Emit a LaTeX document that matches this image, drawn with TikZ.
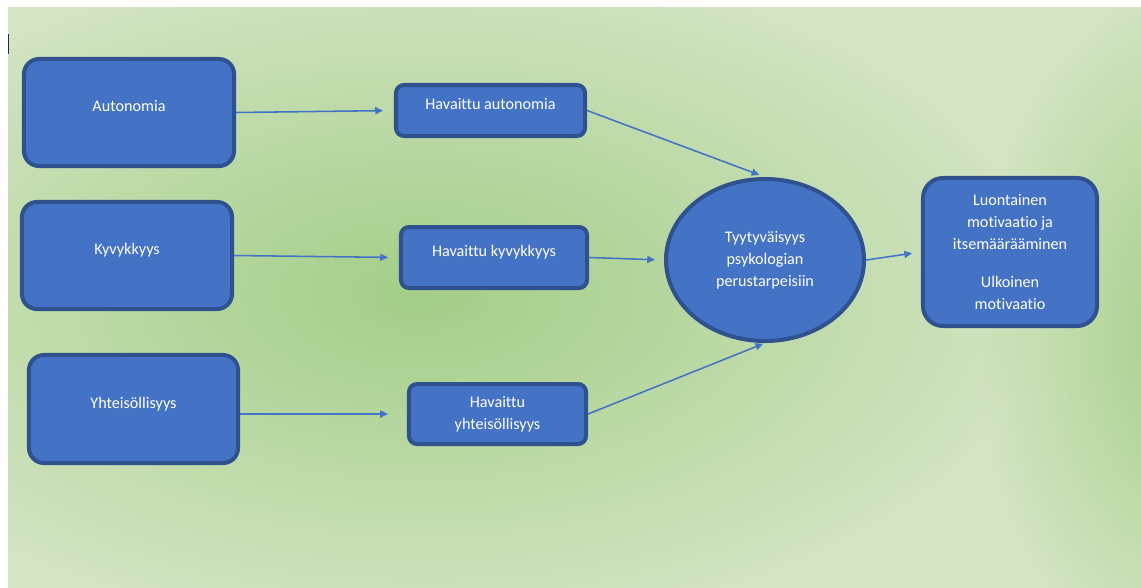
\documentclass[tikz,border=0pt]{standalone}
\usepackage{fontspec}
\setmainfont{Carlito}[Ligatures=NoCommon]
\usepackage{tikz}
\usetikzlibrary{arrows.meta,positioning,shapes.geometric,fadings}
\definecolor{sdtfill}{RGB}{68,114,196}
\definecolor{sdtline}{RGB}{47,82,143}
\definecolor{bglight}{RGB}{210,228,194}
\definecolor{bgdark}{RGB}{164,206,136}
\definecolor{cursorc}{RGB}{60,30,80}
\tikzfading[name=softblob, inner color=transparent!0, outer color=transparent!100]
\tikzset{
  factorbox/.style={
    rectangle, rounded corners=0.375cm, draw=sdtline, fill=sdtfill,
    line width=0.1cm, text=white, text height=8pt, text depth=9pt,
    minimum width=5.25cm, minimum height=2.675cm,
    font=\fontsize{11.5}{15.6}\selectfont
  },
  perceivedbox/.style={
    rectangle, rounded corners=0.2cm, draw=sdtline, fill=sdtfill,
    line width=0.1cm, text=white, text height=8pt, text depth=9pt,
    font=\fontsize{11.5}{15.6}\selectfont
  },
  needoval/.style={
    ellipse, draw=sdtline, fill=sdtfill, line width=0.1cm, inner sep=0pt,
    minimum width=4.95cm, minimum height=4.05cm, align=center,
    text=white, font=\fontsize{11.5}{15.6}\selectfont
  },
  outcomebox/.style={
    rectangle, rounded corners=0.5cm, draw=sdtline, fill=sdtfill,
    line width=0.1cm, minimum width=4.35cm, minimum height=3.7cm,
    align=center, text=white, font=\fontsize{11.5}{15.6}\selectfont
  },
  linkarrow/.style={-{Triangle[length=5.5pt,width=5pt]}, sdtfill, line width=1.1pt}
}
\begin{document}
\begin{tikzpicture}[x=0.025cm, y=-0.025cm]
  \useasboundingbox (0,0) rectangle (1141,587);
  % Background
  \fill[white] (-5,-5) rectangle (1150,595);
  \begin{scope}
    \clip (8,7) rectangle (1150,595);
    \fill[bglight] (8,7) rectangle (1150,595);
    \fill[bgdark, path fading=softblob] (420,295) ellipse (620 and 330);
    \fill[bgdark, path fading=softblob] (1200,330) ellipse (220 and 340);
  \end{scope}
  \draw[cursorc, line width=0.8pt] (8.5,34) -- (8.5,54);

  % Basic needs
  \node[factorbox] (auto) at (129,112.5) {Autonomia};
  \node[factorbox] (kyv)  at (127,255.5) {Kyvykkyys};
  \node[factorbox, minimum width=5.225cm, minimum height=2.7cm] (yht) at (133.5,409) {Yhteisöllisyys};

  % Perceived needs
  \node[perceivedbox, minimum width=4.725cm, minimum height=1.275cm] (hauto) at (490.5,110.5) {Havaittu autonomia};
  \node[perceivedbox, minimum width=4.65cm, minimum height=1.525cm] (hkyv) at (494,257.5) {Havaittu kyvykkyys};
  \node[perceivedbox, minimum width=4.425cm, minimum height=1.5cm, align=center,
        text height=, text depth=] (hyht) at (497.5,414) {Havaittu\\yhteisöllisyys};

  % Satisfaction and outcome
  \node[needoval] (tyy) at (765,260) {Tyytyväisyys\\psykologian\\perustarpeisiin};
  \node[outcomebox] (luon) at (1010,252)
    {Luontainen\\motivaatio ja\\itsemäärääminen\\[12pt]Ulkoinen\\motivaatio};

  % Arrows
  \foreach \a/\b/\s in {auto/hauto/0.275cm, kyv/hkyv/0.275cm}
    \draw[linkarrow, shorten >=\s] (\a.east) -- (\b.west);
  \draw[linkarrow, shorten >=0.475cm] (yht.east |- hyht.west) -- (hyht.west);
  \draw[linkarrow, shorten >=0.15cm] (hauto.east) -- (tyy.north);
  \draw[linkarrow, shorten >=0.225cm] (hkyv.east) -- (tyy.west);
  \draw[linkarrow, shorten >=0.05cm] (hyht.east) -- (tyy.south);
  \draw[linkarrow, shorten >=0.225cm] (tyy.east) -- (luon.west);
\end{tikzpicture}
\end{document}
